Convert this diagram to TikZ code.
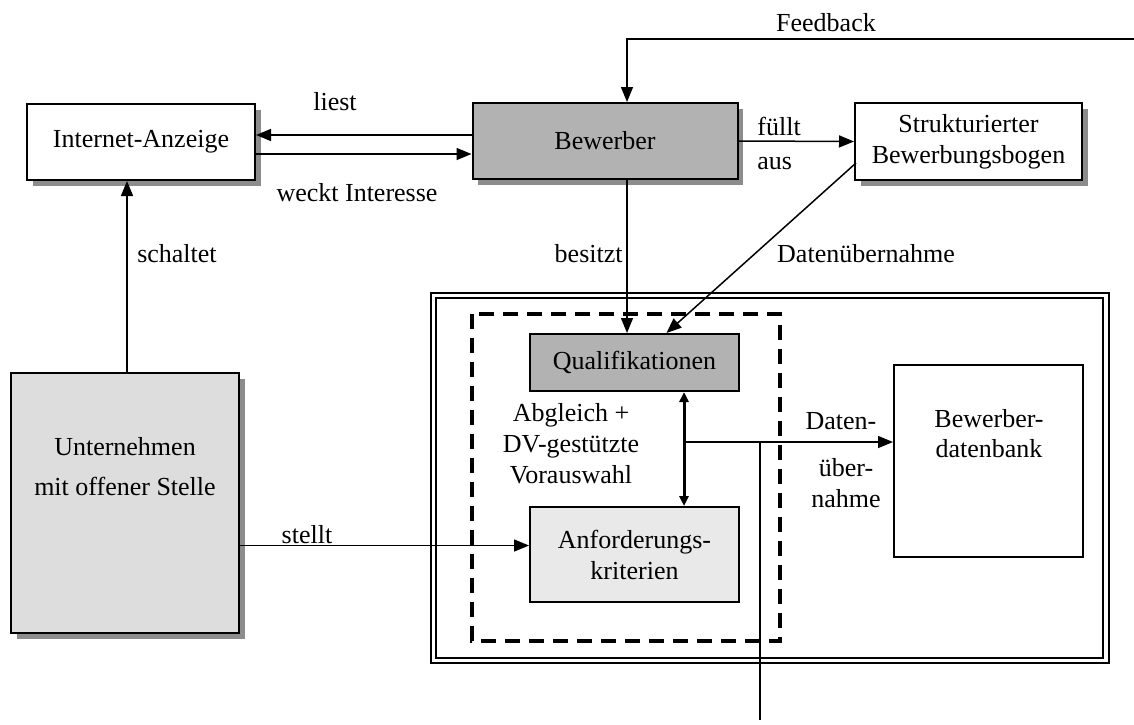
\documentclass[tikz,border=0pt]{standalone}
\usepackage{fontspec}
\setmainfont{Liberation Serif}
\usetikzlibrary{arrows.meta,shadows}

\begin{document}
\begin{tikzpicture}[x=0.5pt, y=-0.5pt,
  every node/.style = {align=center, inner sep=0pt,
    font=\fontsize{13}{15.5}\selectfont},
  kasten/.style = {shape=rectangle, draw, line width=1pt, fill=white},
  schatten/.style = {drop shadow={shadow xshift=2.75pt,
    shadow yshift=-2.75pt, fill=gray!90, opacity=1}},
  pfeil/.style = {-{Triangle[length=7.5pt,width=6pt]}, line width=0.75pt}]
  \useasboundingbox (0,0) rectangle (1134,724);

  % Rahmen
  \draw[line width=1.3pt] (431,293) rectangle (1109,663);
  \draw[line width=0.8pt] (436,298) rectangle (1103,658);
  \draw[line width=1.6pt, dash pattern=on 7.5pt off 4.5pt] (472,314) rectangle (780,641);

  \node[kasten, schatten, minimum width=114pt, minimum height=38pt] (anzeige) at (141,142) {Internet-Anzeige};
  \node[kasten, schatten, fill=gray!60, minimum width=132.5pt, minimum height=38pt] (bewerber) at (605,141) {Bewerber};
  \node[kasten, schatten, minimum width=113.5pt, minimum height=38.5pt] (bogen) at (968.5,141.5) {Strukturierter\\Bewerbungsbogen};
  \node[kasten, schatten, fill=gray!27, minimum width=114pt, minimum height=130pt] (unternehmen) at (125,503) {};
  \node[font=\fontsize{13}{20}\selectfont] (t-unternehmen) at (125,467) {Unternehmen\\mit offener Stelle};
  \node[kasten, fill=gray!60, minimum width=104.5pt, minimum height=28.5pt] (quali) at (634.5,362.5) {Qualifikationen};
  \node[kasten, fill=gray!17, minimum width=104.5pt, minimum height=47.5pt] (anforderung) at (634.5,554.5) {Anforderungs-\\kriterien};
  \node[kasten, minimum width=94.5pt, minimum height=96pt] (datenbank) at (988.5,461) {};
  \node[font=\fontsize{13}{15}\selectfont] (t-datenbank) at (989,434) {Bewerber-\\datenbank};

  % Verbindungen
  \draw[pfeil] (bewerber.west) ++(0,-6) coordinate (liest) -- (liest -| anzeige.east);
  \draw[pfeil] (anzeige.east) ++(0,12) coordinate (weckt) -- (weckt -| bewerber.west);
  \draw[pfeil] (bewerber.east) -- (bogen.west);
  \draw[pfeil] (unternehmen.north) ++(2,0) coordinate (schaltet) -- (schaltet |- anzeige.south);
  \coordinate (feedback) at (1134,39);
  \draw[pfeil] (feedback) -| ([xshift=11pt]bewerber.north);
  \draw[pfeil] ([xshift=11pt]bewerber.south) coordinate (besitzt) -- (besitzt |- quali.north);
  \draw[pfeil] ([shift={(2,-18)}]bogen.south west) -- ([xshift=16pt]quali.north);
  \path (anforderung.west) ++(0,-9) coordinate (stellt);
  \draw[pfeil] (stellt -| unternehmen.east) -- (stellt);
  \draw[{Triangle[length=5pt,width=4.5pt]}-{Triangle[length=5pt,width=4.5pt]}, line width=1.5pt]
    ([xshift=24.75pt]quali.south) coordinate (abgleich) -- (abgleich |- anforderung.north);
  \coordinate (uebernahme) at (684,442);
  \draw[pfeil] (uebernahme) -- (uebernahme -| datenbank.west);
  \coordinate (abzweig) at (760,442);
  \coordinate (ausgang) at (760,720);
  \draw[line width=0.75pt] (abzweig) -- (ausgang);

  % Beschriftungen
  \node (t-liest) at (335,102) {liest};
  \node (t-weckt) at (357,193) {weckt Interesse};
  \node (t-feedback) at (826,23) {Feedback};
  \node[anchor=base west, align=left, font=\fontsize{13}{17}\selectfont] (t-fuellt) at (757,169) {füllt\\aus};
  \node (t-schaltet) at (177,254) {schaltet};
  \node[anchor=east] (t-besitzt) at (623,254) {besitzt};
  \node (t-datenuebernahme) at (866,254) {Datenübernahme};
  \node (t-stellt) at (307,535) {stellt};
  \node[font=\fontsize{13}{15.5}\selectfont] (t-abgleich) at (571,444) {Abgleich +\\DV-gestützte\\Vorauswahl};
  \node (t-daten) at (841,421) {Daten-};
  \node[font=\fontsize{13}{15.5}\selectfont] (t-uebernahme) at (846,483) {über-\\nahme};
\end{tikzpicture}
\end{document}
